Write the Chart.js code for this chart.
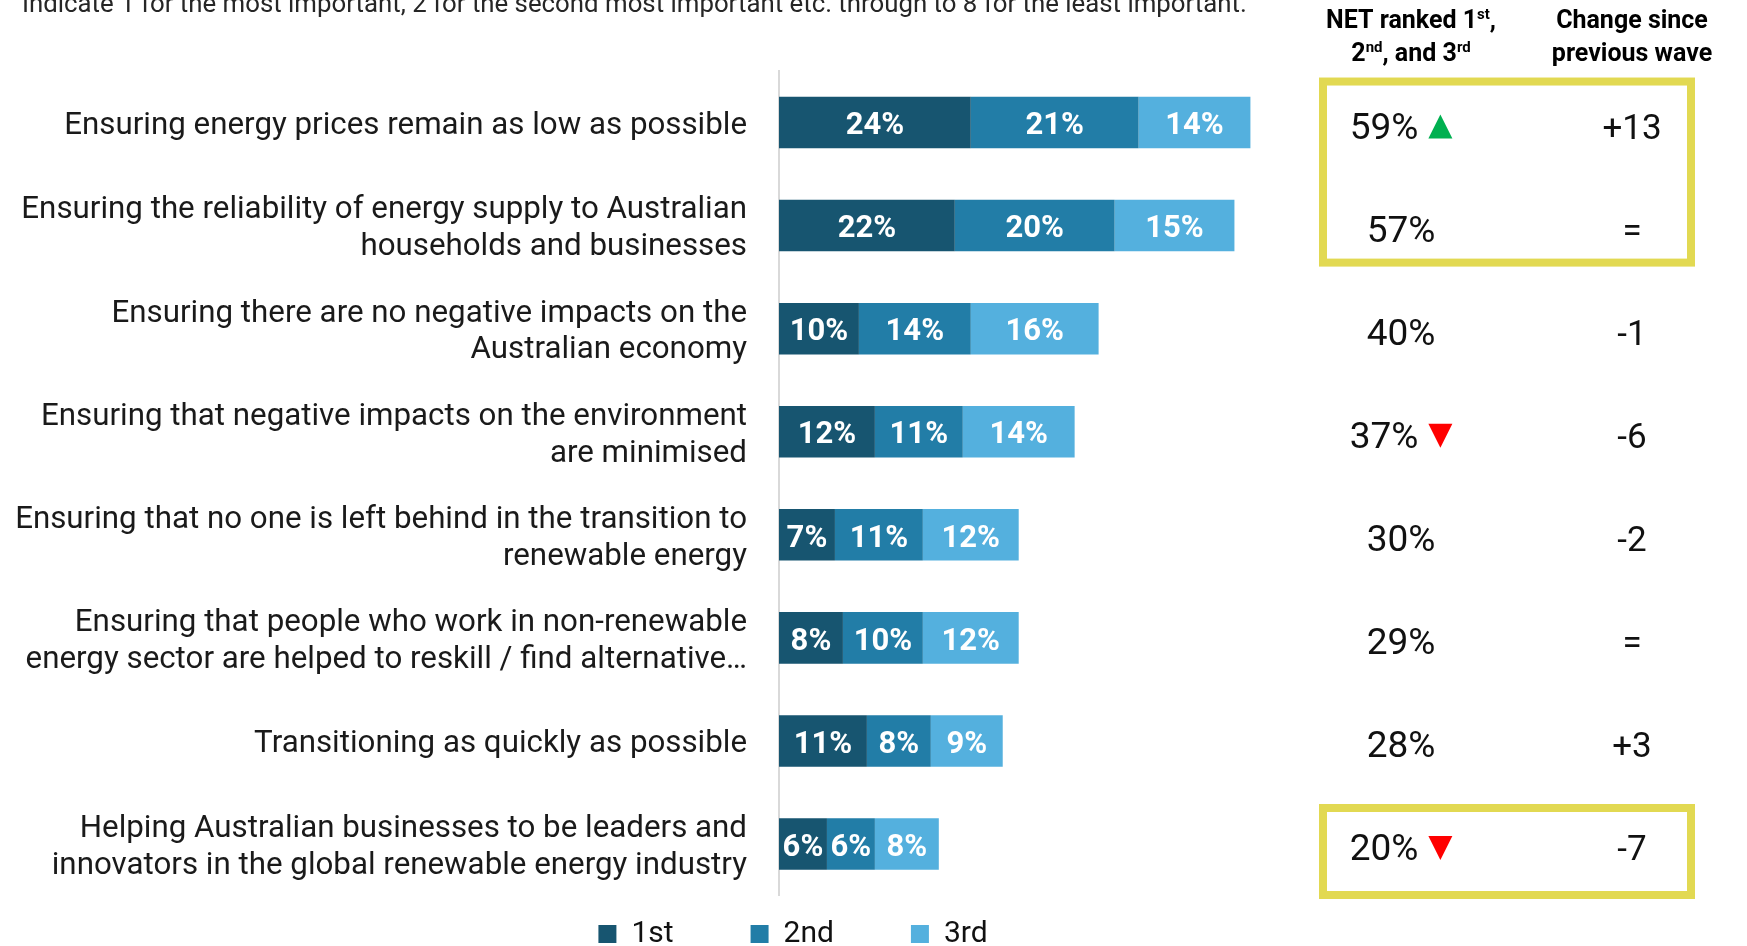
<!DOCTYPE html>
<html><head><meta charset="utf-8">
<script src="https://cdn.jsdelivr.net/npm/chart.js@4.4.1/dist/chart.umd.min.js"></script>
<style>
html,body{margin:0;padding:0;background:#fff;width:1747px;height:946px;overflow:hidden;}
#wrap{position:absolute;left:0;top:0;width:1747px;height:946px;}
canvas{display:block;}
</style></head><body>
<div id="wrap"><canvas id="c" width="1747" height="946"></canvas></div>
<script>
// ---------- data ----------
const categories = [
  ['Ensuring energy prices remain as low as possible'],
  ['Ensuring the reliability of energy supply to Australian', 'households and businesses'],
  ['Ensuring there are no negative impacts on the', 'Australian economy'],
  ['Ensuring that negative impacts on the environment', 'are minimised'],
  ['Ensuring that no one is left behind in the transition to', 'renewable energy'],
  ['Ensuring that people who work in non-renewable', 'energy sector are helped to reskill / find alternative\u2026'],
  ['Transitioning as quickly as possible'],
  ['Helping Australian businesses to be leaders and', 'innovators in the global renewable energy industry']
];
const seriesNames = ['1st', '2nd', '3rd'];
const firstRank  = [24, 22, 10, 12, 7, 8, 11, 6];
const secondRank = [21, 20, 14, 11, 11, 10, 8, 6];
const thirdRank  = [14, 15, 16, 14, 12, 12, 9, 8];
const netRanked  = [59, 57, 40, 37, 30, 29, 28, 20];
const netArrow   = ['up', null, null, 'down', null, null, null, 'down'];
const changeSincePrevious = ['+13', '=', '-1', '-6', '-2', '=', '+3', '-7'];
const highlightedRowGroups = [[0, 1], [7, 7]];
const questionText = 'Indicate 1 for the most important, 2 for the second most important etc. through to 8 for the least important.';
const netHeaderLines = [
  [{t: 'NET ranked 1'}, {t: 'st', sup: true}, {t: ','}],
  [{t: '2'}, {t: 'nd', sup: true}, {t: ', and 3'}, {t: 'rd', sup: true}]
];
const changeHeaderLines = [
  [{t: 'Change since'}],
  [{t: 'previous wave'}]
];

// ---------- style ----------
const COLORS = ['#175570', '#227DA7', '#54B0DE'];
const FONT = 'Roboto';
const NET_X = 1401, CHANGE_X = 1632;
const BOX_LEFT = 1319, BOX_RIGHT = 1695, BOX_LINE = 8, BOX_COLOR = '#E2D952';
const BOX_MARGINS = [[45, 41], [40, 55]]; // [above first row, below last row] per highlight box
const LEGEND_ITEM_TOP = 919;

const legendShift = {
  id: 'legendShift',
  afterLayout(chart) {
    const lg = chart.legend;
    if (!lg) return;
    const pad = lg.options.labels.padding;
    const h = lg.height;
    lg.top = LEGEND_ITEM_TOP - pad;
    lg.bottom = lg.top + h;
  }
};

const valueLabels = {
  id: 'valueLabels',
  afterDatasetsDraw(chart) {
    const ctx = chart.ctx;
    ctx.save();
    ctx.font = 'bold 31px ' + FONT;
    ctx.fillStyle = '#ffffff';
    ctx.textAlign = 'center';
    ctx.textBaseline = 'middle';
    chart.data.datasets.forEach((ds, di) => {
      const meta = chart.getDatasetMeta(di);
      meta.data.forEach((bar, i) => {
        const p = bar.getProps(['x', 'y', 'base'], true);
        ctx.fillText(ds.data[i] + '%', (p.x + p.base) / 2, p.y + 4);
      });
    });
    ctx.restore();
  }
};

function drawRich(ctx, segs, cx, baseline, size) {
  const fonts = segs.map(s => s.sup ? ('bold ' + Math.round(size * 0.6) + 'px ' + FONT) : ('bold ' + size + 'px ' + FONT));
  let total = 0;
  const widths = segs.map((s, i) => { ctx.font = fonts[i]; const w = ctx.measureText(s.t).width; total += w; return w; });
  let x = cx - total / 2;
  ctx.textAlign = 'left';
  ctx.textBaseline = 'alphabetic';
  segs.forEach((s, i) => {
    ctx.font = fonts[i];
    ctx.fillText(s.t, x, s.sup ? baseline - size * 0.38 : baseline);
    x += widths[i];
  });
}

const sideTable = {
  id: 'sideTable',
  afterDraw(chart) {
    const ctx = chart.ctx;
    const y = chart.scales.y;
    ctx.save();
    // question text (partly cropped at top)
    ctx.fillStyle = '#262626';
    ctx.font = '25.8px ' + FONT;
    ctx.textAlign = 'left';
    ctx.textBaseline = 'alphabetic';
    ctx.fillText(questionText, 22, 12);

    // headers
    ctx.fillStyle = '#000';
    netHeaderLines.forEach((line, k) => drawRich(ctx, line, 1411, 28 + k * 33, 25));
    changeHeaderLines.forEach((line, k) => drawRich(ctx, line, CHANGE_X, 28 + k * 33, 25));

    // highlight boxes
    ctx.strokeStyle = BOX_COLOR;
    ctx.lineWidth = BOX_LINE;
    highlightedRowGroups.forEach(([a, b], g) => {
      const top = y.getPixelForValue(a) - BOX_MARGINS[g][0];
      const bottom = y.getPixelForValue(b) + BOX_MARGINS[g][1];
      ctx.strokeRect(BOX_LEFT + BOX_LINE / 2, top + BOX_LINE / 2, BOX_RIGHT - BOX_LEFT - BOX_LINE, bottom - top - BOX_LINE);
    });

    // values
    const tri = 24, gap = 10;
    netRanked.forEach((v, i) => {
      const cy = y.getPixelForValue(i);
      const base = cy + 16;
      const txt = v + '%';
      ctx.font = '37px ' + FONT;
      ctx.textBaseline = 'alphabetic';
      const w = ctx.measureText(txt).width;
      const arrow = netArrow[i];
      const groupW = arrow ? w + gap + tri : w;
      const left = NET_X - groupW / 2;
      ctx.fillStyle = '#111';
      ctx.textAlign = 'left';
      ctx.fillText(txt, left, base);
      if (arrow) {
        const tx = left + w + gap;
        ctx.beginPath();
        if (arrow === 'up') {
          ctx.fillStyle = '#00B050';
          ctx.moveTo(tx, base); ctx.lineTo(tx + tri, base); ctx.lineTo(tx + tri / 2, base - tri);
        } else {
          ctx.fillStyle = '#FF0000';
          ctx.moveTo(tx, base - tri); ctx.lineTo(tx + tri, base - tri); ctx.lineTo(tx + tri / 2, base);
        }
        ctx.closePath();
        ctx.fill();
      }
      ctx.font = '35px ' + FONT;
      ctx.fillStyle = '#111';
      ctx.textAlign = 'center';
      ctx.fillText(changeSincePrevious[i], CHANGE_X, base);
    });
    ctx.restore();
  }
};

const seriesData = [firstRank, secondRank, thirdRank];
new Chart(document.getElementById('c'), {
  type: 'bar',
  data: {
    labels: categories,
    datasets: seriesNames.map((n, k) => ({
      label: n, data: seriesData[k], backgroundColor: COLORS[k], borderWidth: 0
    }))
  },
  options: {
    responsive: false,
    animation: false,
    indexAxis: 'y',
    layout: {padding: {top: 71, left: 0, right: 161, bottom: -72}},
    datasets: {bar: {categoryPercentage: 1, barPercentage: 0.5}},
    scales: {
      x: {stacked: true, display: false, min: 0, max: 101},
      y: {
        stacked: true, offset: true,
        grid: {display: false, drawTicks: false},
        border: {display: true, color: '#D9D9D9', width: 2},
        ticks: {autoSkip: false, padding: 32, labelOffset: 3.5, color: '#1a1a1a', font: {family: FONT, size: 31.3, lineHeight: 1.18}},
        afterFit(s) { s.width = 779; }
      }
    },
    plugins: {
      legend: {
        position: 'bottom',
        labels: {boxWidth: 18, boxHeight: 18, padding: 77, color: '#111', font: {family: FONT, size: 30}}
      },
      tooltip: {enabled: false},
      title: {display: false}
    }
  },
  plugins: [legendShift, valueLabels, sideTable]
});
</script>
</body></html>
